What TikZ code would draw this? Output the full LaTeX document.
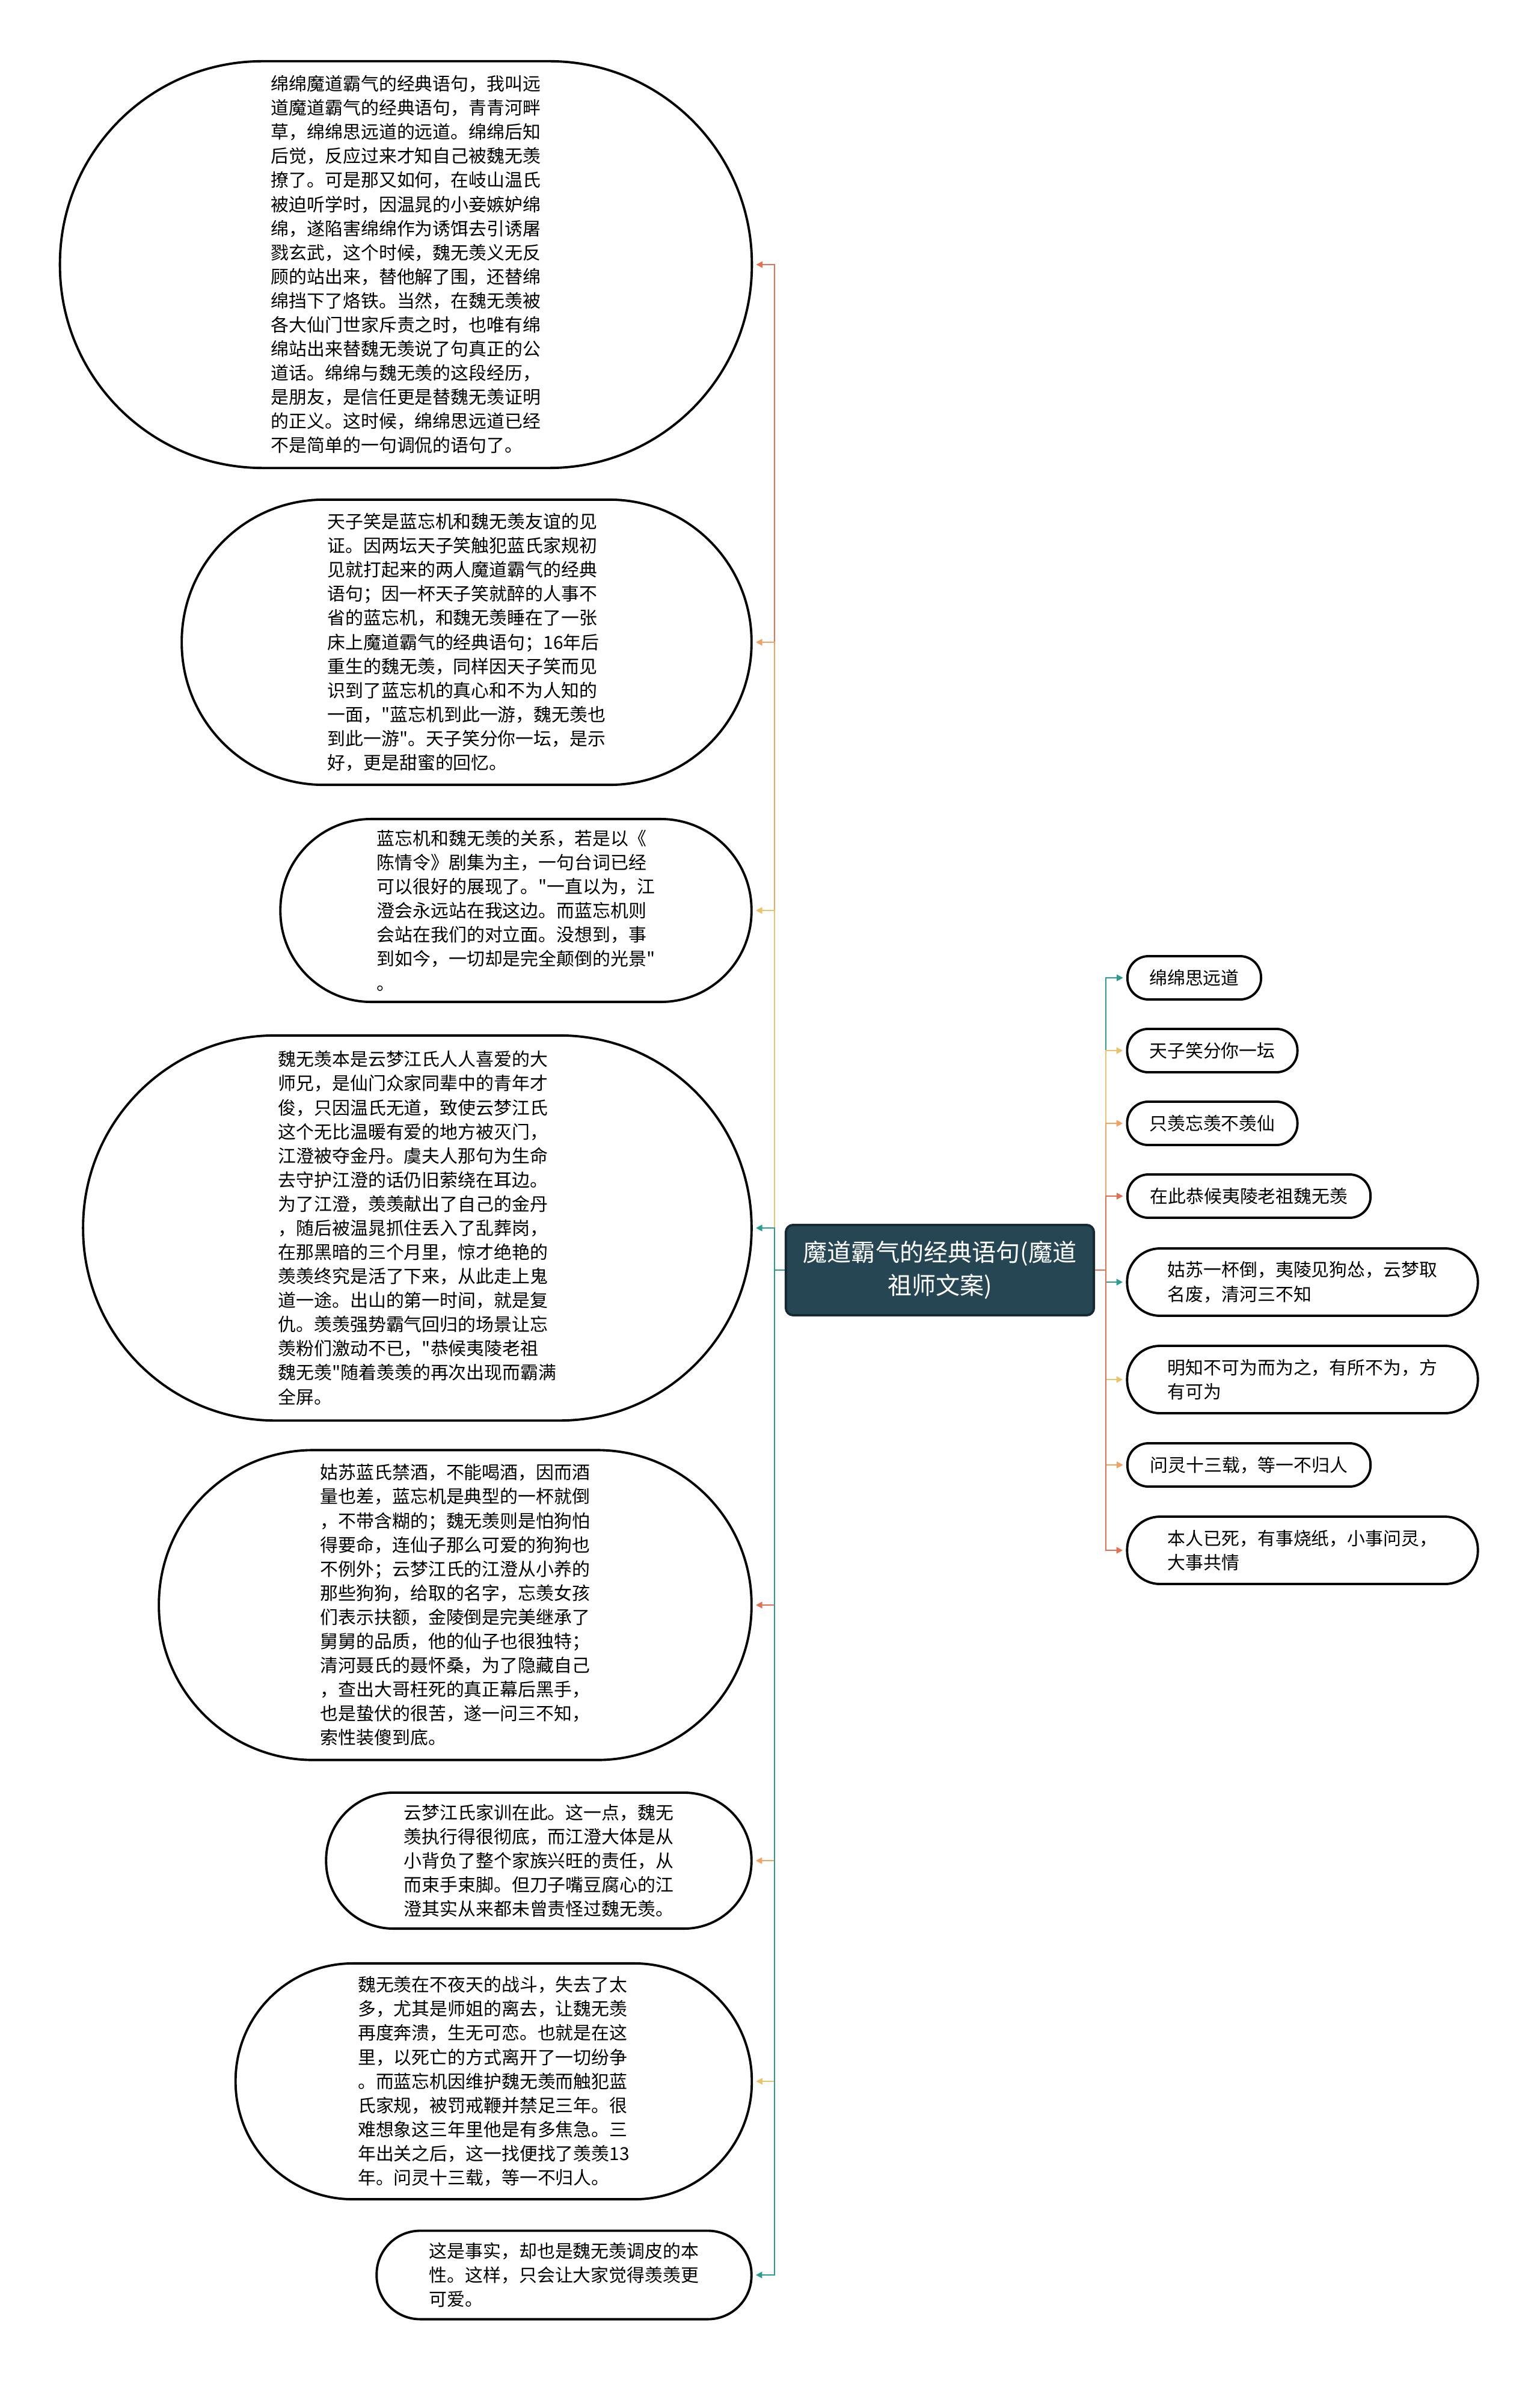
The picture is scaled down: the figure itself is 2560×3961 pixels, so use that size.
\documentclass[tikz,border=0pt]{standalone}
\usepackage{fontspec}
\newfontfamily\cjk{Noto Sans CJK SC}
\usetikzlibrary{arrows.meta}
\definecolor{bteal}{HTML}{2A9D8F}
\definecolor{byellow}{HTML}{E9C46A}
\definecolor{borange}{HTML}{F4A261}
\definecolor{bred}{HTML}{E76F51}
\definecolor{hubfill}{HTML}{264653}

\begin{document}
\begin{tikzpicture}[x=0.01cm, y=-0.01cm,
		box/.style 2 args = {draw=black, line width=1.1pt, fill=white, align=left, inner sep=0pt,
			minimum width=#1, minimum height=#2, rounded corners=#2/2-0.3pt,
			font=\fontsize{8.5pt}{11.4pt}\selectfont\cjk},
		hub/.style = {draw=hubfill!60!black, line width=1.1pt, fill=hubfill, text=white, align=center,
			minimum width=5.12cm, minimum height=1.5cm, rounded corners=0.12cm,
			font=\fontsize{11.4pt}{15.4pt}\selectfont\cjk},
		arr/.style = {line width=0.8pt, -{Triangle[length=3pt, width=3pt]}, shorten >=1.5pt}
		]
		\fill[white] (0,0) rectangle (2560,3961);
		
		% === === Centre === ===
		\node[hub]	(root)	at	(1563, 2112)	{魔道霸气的经典语句(魔道\\祖师文案)};
		\coordinate	(lspine)	at	(1288, 2112);
		\coordinate	(rspine)	at	(1839, 2112);
		
		% === === Left side === ===
		\node[box={11.5cm}{6.76cm}]	(l1)	at	(675, 440)	{绵绵魔道霸气的经典语句，我叫远\\道魔道霸气的经典语句，青青河畔\\草，绵绵思远道的远道。绵绵后知\\后觉，反应过来才知自己被魏无羡\\撩了。可是那又如何，在岐山温氏\\被迫听学时，因温晁的小妾嫉妒绵\\绵，遂陷害绵绵作为诱饵去引诱屠\\戮玄武，这个时候，魏无羡义无反\\顾的站出来，替他解了围，还替绵\\绵挡下了烙铁。当然，在魏无羡被\\各大仙门世家斥责之时，也唯有绵\\绵站出来替魏无羡说了句真正的公\\道话。绵绵与魏无羡的这段经历，\\是朋友，是信任更是替魏无羡证明\\的正义。这时候，绵绵思远道已经\\不是简单的一句调侃的语句了。};
		\node[box={9.47cm}{4.74cm}]	(l2)	at	(776, 1068)	{天子笑是蓝忘机和魏无羡友谊的见\\证。因两坛天子笑触犯蓝氏家规初\\见就打起来的两人魔道霸气的经典\\语句；因一杯天子笑就醉的人事不\\省的蓝忘机，和魏无羡睡在了一张\\床上魔道霸气的经典语句；16年后\\重生的魏无羡，同样因天子笑而见\\识到了蓝忘机的真心和不为人知的\\一面，"蓝忘机到此一游，魏无羡也\\到此一游"。天子笑分你一坛，是示\\好，更是甜蜜的回忆。};
		\node[box={7.83cm}{3.04cm}]	(l3)	at	(858, 1514)	{蓝忘机和魏无羡的关系，若是以《\\陈情令》剧集为主，一句台词已经\\可以很好的展现了。"一直以为，江\\澄会永远站在我这边。而蓝忘机则\\会站在我们的对立面。没想到，事\\到如今，一切却是完全颠倒的光景"\\。};
		\node[box={11.11cm}{6.4cm}]	(l4)	at	(694, 2042)	{魏无羡本是云梦江氏人人喜爱的大\\师兄，是仙门众家同辈中的青年才\\俊，只因温氏无道，致使云梦江氏\\这个无比温暖有爱的地方被灭门，\\江澄被夺金丹。虞夫人那句为生命\\去守护江澄的话仍旧萦绕在耳边。\\为了江澄，羡羡献出了自己的金丹\\，随后被温晁抓住丢入了乱葬岗，\\在那黑暗的三个月里，惊才绝艳的\\羡羡终究是活了下来，从此走上鬼\\道一途。出山的第一时间，就是复\\仇。羡羡强势霸气回归的场景让忘\\羡粉们激动不已，"恭候夷陵老祖\\魏无羡"随着羡羡的再次出现而霸满\\全屏。};
		\node[box={9.85cm}{5.15cm}]	(l5)	at	(757, 2669)	{姑苏蓝氏禁酒，不能喝酒，因而酒\\量也差，蓝忘机是典型的一杯就倒\\，不带含糊的；魏无羡则是怕狗怕\\得要命，连仙子那么可爱的狗狗也\\不例外；云梦江氏的江澄从小养的\\那些狗狗，给取的名字，忘羡女孩\\们表示扶额，金陵倒是完美继承了\\舅舅的品质，他的仙子也很独特；\\清河聂氏的聂怀桑，为了隐藏自己\\，查出大哥枉死的真正幕后黑手，\\也是蛰伏的很苦，遂一问三不知，\\索性装傻到底。};
		\node[box={7.07cm}{2.26cm}]	(l6)	at	(896, 3094)	{云梦江氏家训在此。这一点，魏无\\羡执行得很彻底，而江澄大体是从\\小背负了整个家族兴旺的责任，从\\而束手束脚。但刀子嘴豆腐心的江\\澄其实从来都未曾责怪过魏无羡。};
		\node[box={8.58cm}{3.92cm}]	(l7)	at	(821, 3461)	{魏无羡在不夜天的战斗，失去了太\\多，尤其是师姐的离去，让魏无羡\\再度奔溃，生无可恋。也就是在这\\里，以死亡的方式离开了一切纷争\\。而蓝忘机因维护魏无羡而触犯蓝\\氏家规，被罚戒鞭并禁足三年。很\\难想象这三年里他是有多焦急。三\\年出关之后，这一找便找了羡羡13\\年。问灵十三载，等一不归人。};
		\node[box={6.23cm}{1.47cm}]	(l8)	at	(938, 3783)	{这是事实，却也是魏无羡调皮的本\\性。这样，只会让大家觉得羡羡更\\可爱。};
		
		% === === Right side === ===
		\node[box={2.22cm}{0.72cm}]	(r1)	at	(1986, 1626)	{绵绵思远道};
		\node[box={2.83cm}{0.72cm}]	(r2)	at	(2016, 1747)	{天子笑分你一坛};
		\node[box={2.83cm}{0.72cm}]	(r3)	at	(2016, 1868)	{只羡忘羡不羡仙};
		\node[box={4.04cm}{0.72cm}]	(r4)	at	(2077, 1989)	{在此恭候夷陵老祖魏无羡};
		\node[box={5.83cm}{1.12cm}]	(r5)	at	(2166, 2132)	{姑苏一杯倒，夷陵见狗怂，云梦取\\名废，清河三不知};
		\node[box={5.83cm}{1.12cm}]	(r6)	at	(2166, 2294)	{明知不可为而为之，有所不为，方\\有可为};
		\node[box={4.04cm}{0.72cm}]	(r7)	at	(2077, 2436)	{问灵十三载，等一不归人};
		\node[box={5.83cm}{1.12cm}]	(r8)	at	(2166, 2578)	{本人已死，有事烧纸，小事问灵，\\大事共情};
		
		% === === Lines === ===
		\draw[arr, bred]		(root.west)	--	(lspine)	|-	(l1.east);
		\draw[arr, borange]	(root.west)	--	(lspine)	|-	(l2.east);
		\draw[arr, byellow]	(root.west)	--	(lspine)	|-	(l3.east);
		\draw[arr, bteal]		(root.west)	--	(lspine)	|-	(l4.east);
		\draw[arr, bred]		(root.west)	--	(lspine)	|-	(l5.east);
		\draw[arr, borange]	(root.west)	--	(lspine)	|-	(l6.east);
		\draw[arr, byellow]	(root.west)	--	(lspine)	|-	(l7.east);
		\draw[arr, bteal]		(root.west)	--	(lspine)	|-	(l8.east);
		
		\draw[arr, bteal]		(root.east)	--	(rspine)	|-	(r1.west);
		\draw[arr, byellow]	(root.east)	--	(rspine)	|-	(r2.west);
		\draw[arr, borange]	(root.east)	--	(rspine)	|-	(r3.west);
		\draw[arr, bred]		(root.east)	--	(rspine)	|-	(r4.west);
		\draw[arr, bteal]		(root.east)	--	(rspine)	|-	(r5.west);
		\draw[arr, byellow]	(root.east)	--	(rspine)	|-	(r6.west);
		\draw[arr, borange]	(root.east)	--	(rspine)	|-	(r7.west);
		\draw[arr, bred]		(root.east)	--	(rspine)	|-	(r8.west);
		
	\end{tikzpicture}
\end{document}
